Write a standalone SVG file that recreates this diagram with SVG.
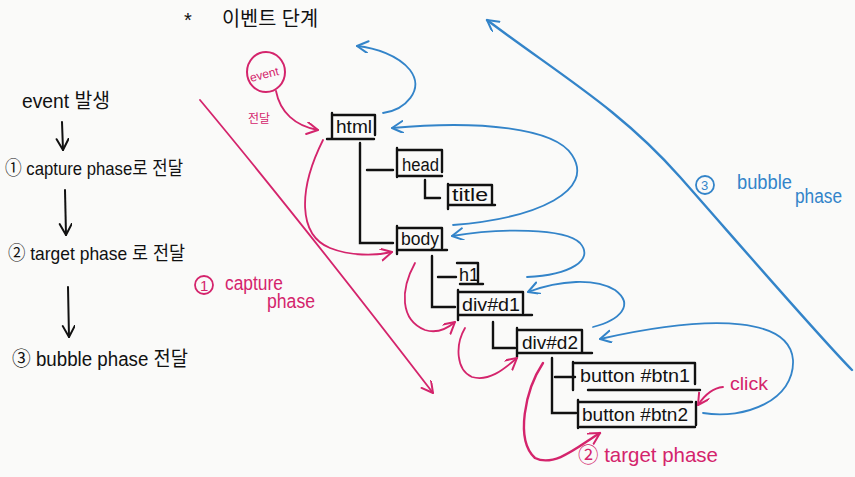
<svg xmlns="http://www.w3.org/2000/svg" width="855" height="477" viewBox="0 0 855 477">
<defs>
<style>
.bg{fill:#fafaf9}
.t{font-family:"Liberation Sans","Noto Sans CJK KR",sans-serif;fill:#111}
.nl{font-family:"Liberation Sans",sans-serif;font-size:18px;fill:#111}
.box{fill:none;stroke:#111;stroke-width:2.4;stroke-linecap:round;stroke-linejoin:round}
.tree{fill:none;stroke:#111;stroke-width:2.4;stroke-linecap:round}
.pk{fill:none;stroke:#d4246c;stroke-width:1.8;stroke-linecap:round}
.pkb{fill:none;stroke:#d4246c;stroke-width:2.4;stroke-linecap:round}
.bl{fill:none;stroke:#3384c9;stroke-width:1.8;stroke-linecap:round}
.blb{fill:none;stroke:#3384c9;stroke-width:2.4;stroke-linecap:round}
.bk{fill:none;stroke:#111;stroke-width:2;stroke-linecap:round}
.pt{font-family:"Liberation Sans","Noto Sans CJK KR",sans-serif;fill:#d4246c}
.bt{font-family:"Liberation Sans","Noto Sans CJK KR",sans-serif;fill:#3384c9}
</style>
<marker id="ap" markerUnits="userSpaceOnUse" markerWidth="16" markerHeight="16" refX="12" refY="6" orient="auto"><path d="M1,0 L12,6 L1,12" fill="none" stroke="#d4246c" stroke-width="2" stroke-linecap="round" stroke-linejoin="round"/></marker>
<marker id="ab" markerUnits="userSpaceOnUse" markerWidth="16" markerHeight="16" refX="12" refY="6" orient="auto"><path d="M1,0 L12,6 L1,12" fill="none" stroke="#3384c9" stroke-width="2" stroke-linecap="round" stroke-linejoin="round"/></marker>
<marker id="ak" markerUnits="userSpaceOnUse" markerWidth="16" markerHeight="16" refX="12" refY="6" orient="auto"><path d="M1,0 L12,6 L1,12" fill="none" stroke="#111" stroke-width="2" stroke-linecap="round" stroke-linejoin="round"/></marker>
</defs>
<rect class="bg" x="0" y="0" width="855" height="477"/>

<g id="title">
<text class="t" x="184" y="27" font-size="20">*</text>
<text class="t" x="222" y="26" font-size="20" textLength="96" lengthAdjust="spacingAndGlyphs">이벤트 단계</text>
</g>

<g id="steps">
<text class="t" x="22" y="108" font-size="20" textLength="88" lengthAdjust="spacingAndGlyphs">event 발생</text>
<text class="t" x="5" y="175" font-size="19" textLength="178" lengthAdjust="spacingAndGlyphs">① capture phase로 전달</text>
<text class="t" x="8" y="260" font-size="19" textLength="177" lengthAdjust="spacingAndGlyphs">② target phase 로 전달</text>
<text class="t" x="12" y="366" font-size="20" textLength="176" lengthAdjust="spacingAndGlyphs">③ bubble phase 전달</text>
<path class="bk" d="M62,122 L63,150" marker-end="url(#ak)"/>
<path class="bk" d="M65,190 L66,235" marker-end="url(#ak)"/>
<path class="bk" d="M68,287 L69,337" marker-end="url(#ak)"/>
</g>

<g id="node-html">
<path class="box" d="M332,113 V138 M332,115 H375 V135 M327,139 H374"/>
<text class="nl" x="336" y="133" textLength="36" lengthAdjust="spacingAndGlyphs">html</text>
</g>
<g id="node-head">
<path class="box" d="M397,148 V177 M397,150 H442 V172 M398,176 H442"/>
<text class="nl" x="402" y="171" textLength="37" lengthAdjust="spacingAndGlyphs">head</text>
</g>
<g id="node-title">
<path class="box" d="M448,184 V209 M448,185 H492 V204 M448,205 H495"/>
<text class="nl" x="452" y="201" font-size="17" textLength="36" lengthAdjust="spacingAndGlyphs">title</text>
</g>
<g id="node-body">
<path class="box" d="M397,226 V254 M397,228 H442 V248 M398,250 H447"/>
<text class="nl" x="401" y="245" textLength="38" lengthAdjust="spacingAndGlyphs">body</text>
</g>
<g id="node-h1">
<path class="box" d="M457,263 H478 V282 M460,284 H483"/>
<text class="nl" x="459" y="281" font-size="17" textLength="20" lengthAdjust="spacingAndGlyphs">h1</text>
</g>
<g id="node-div-d1">
<path class="box" d="M458,290 V320 M458,292 H523 V313 M459,315 H532"/>
<text class="nl" x="462" y="311" textLength="58" lengthAdjust="spacingAndGlyphs">div#d1</text>
</g>
<g id="node-div-d2">
<path class="box" d="M517,328 V357 M517,330 H582 V352 M518,353 H592"/>
<text class="nl" x="522" y="349" textLength="56" lengthAdjust="spacingAndGlyphs">div#d2</text>
</g>
<g id="node-btn1">
<path class="box" d="M573,362 V390 M573,363 H695 V384 M588,390 H700"/>
<text class="nl" x="580" y="382" textLength="110" lengthAdjust="spacingAndGlyphs">button #btn1</text>
</g>
<g id="node-btn2">
<path class="box" d="M578,400 V428 M578,402 H692 M696,402 V425 M580,427 H695"/>
<text class="nl" x="582" y="421" textLength="106" lengthAdjust="spacingAndGlyphs">button #btn2</text>
</g>

<g id="node-event">
<ellipse cx="266" cy="72" rx="19" ry="20" fill="none" stroke="#d4246c" stroke-width="2"/>
<text class="pt" x="249" y="78" font-size="12" transform="rotate(-14 266 72)">event</text>
</g>

<g id="labels">
<text class="pt" x="248" y="123" font-size="12">전달</text>
<circle cx="204" cy="285" r="9" fill="none" stroke="#d4246c" stroke-width="1.8"/>
<text class="pt" x="200" y="291" font-size="15">1</text>
<text class="pt" x="225" y="290" font-size="20" textLength="58" lengthAdjust="spacingAndGlyphs">capture</text>
<text class="pt" x="267" y="308" font-size="20" textLength="48" lengthAdjust="spacingAndGlyphs">phase</text>
<text class="pt" x="578" y="462" font-size="21" textLength="140" lengthAdjust="spacingAndGlyphs">② target phase</text>
<text class="pt" x="730" y="390" font-size="19" textLength="38" lengthAdjust="spacingAndGlyphs">click</text>
<circle cx="705" cy="185" r="9" fill="none" stroke="#3384c9" stroke-width="1.8"/>
<text class="bt" x="701" y="190" font-size="13">3</text>
<text class="bt" x="737" y="189" font-size="20" textLength="55" lengthAdjust="spacingAndGlyphs">bubble</text>
<text class="bt" x="795" y="203" font-size="20" textLength="47" lengthAdjust="spacingAndGlyphs">phase</text>
</g>

<g id="connectors">
<path class="tree" d="M360,143 V243 H393 M367,170 H393"/>
<path class="tree" d="M425,180 V198 H440"/>
<path class="tree" d="M432,256 V307 H455 M438,277 H456"/>
<path class="tree" d="M493,322 V348 H515"/>
<path class="tree" d="M552,358 V413 H576 M555,377 H575"/>

<path class="pk" d="M276,91 C 280,112 295,126 318,130" marker-end="url(#ap)"/>
<path class="pk" d="M200,100 Q 300,220 433,393" marker-end="url(#ap)"/>
<path class="pk" d="M323,140 C 298,190 298,235 330,248 C 350,256 375,256 392,252" marker-end="url(#ap)"/>
<path class="pk" d="M415,263 C 400,290 400,320 425,330 C 438,334 448,328 455,322" marker-end="url(#ap)"/>
<path class="pk" d="M465,328 C 455,345 456,370 472,377 C 490,382 505,368 517,358" marker-end="url(#ap)"/>
<path class="pkb" d="M543,363 C 525,390 515,440 535,458 C 555,468 580,445 600,433" marker-end="url(#ap)"/>
<path class="pk" d="M723,387 C 712,388 704,396 698,405" marker-end="url(#ap)"/>

<path class="blb" d="M852,370 C 815,332 740,245 680,177 S 560,75 487,20" marker-end="url(#ab)"/>
<path class="bl" d="M383,113 C 405,110 425,90 410,70 C 398,55 375,48 357,46" marker-end="url(#ab)"/>
<path class="bl" d="M453,225 C 540,218 595,190 572,155 C 555,128 480,120 392,128" marker-end="url(#ab)"/>
<path class="bl" d="M527,277 C 570,275 595,260 580,243 C 565,228 500,228 452,236" marker-end="url(#ab)"/>
<path class="bl" d="M593,327 C 620,320 635,305 615,290 C 595,278 560,280 528,292" marker-end="url(#ab)"/>
<path class="bl" d="M703,413 C 745,420 795,400 793,360 C 790,320 720,312 600,339" marker-end="url(#ab)"/>
</g>
</svg>
